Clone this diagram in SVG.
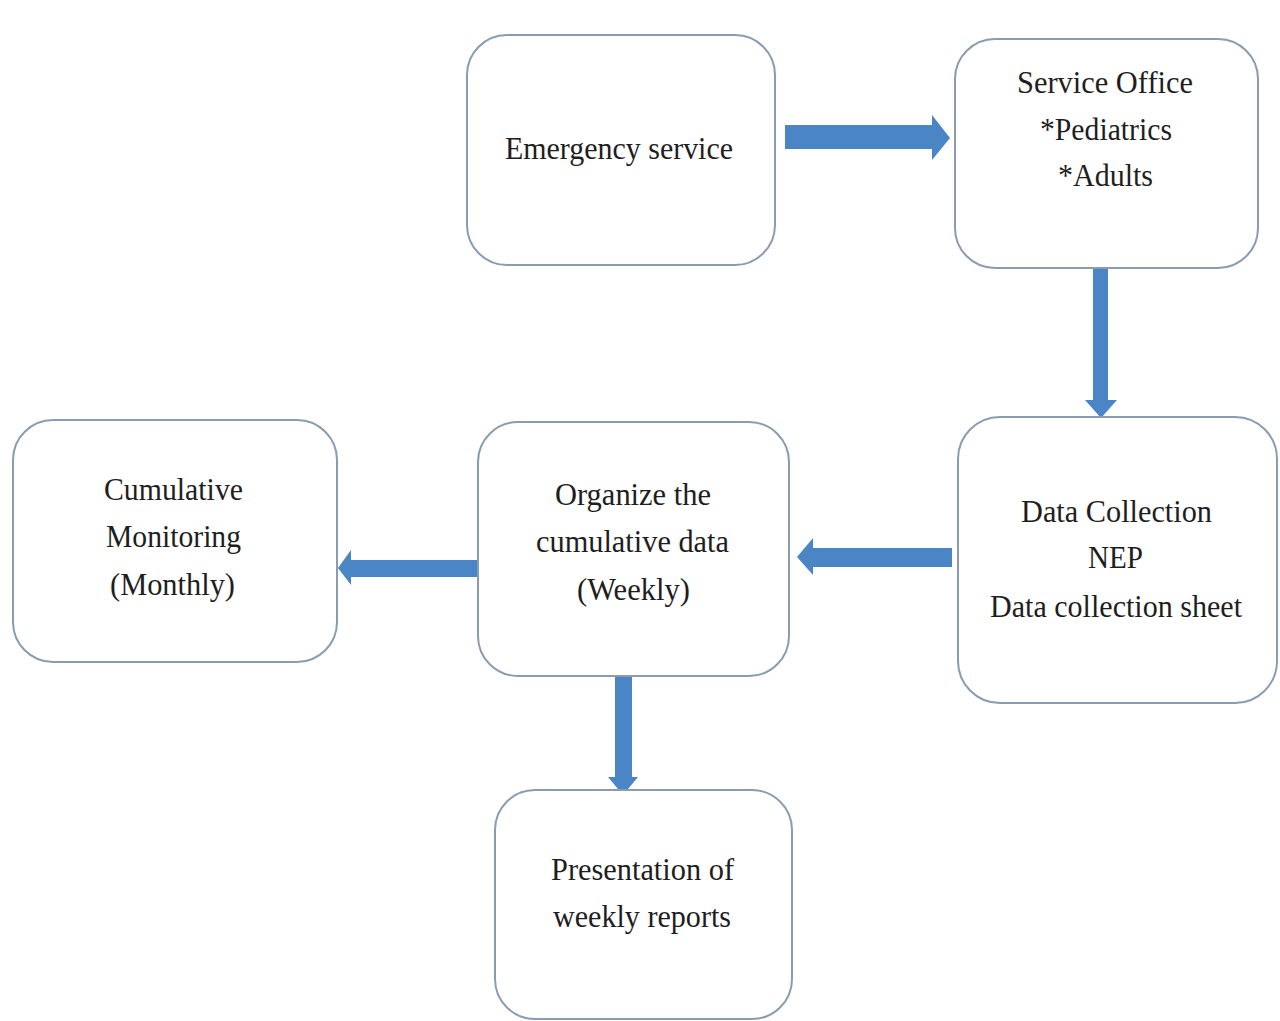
<svg xmlns="http://www.w3.org/2000/svg" width="1280" height="1021" viewBox="0 0 1280 1021">
<style>
.box{fill:#ffffff;stroke:#8a9cb0;stroke-width:2}
.t{font-family:"Liberation Serif","Times New Roman",serif;font-size:31px;fill:#1e1e1e;text-anchor:middle}
.arr{fill:#4a86c6}
</style>
<rect width="1280" height="1021" fill="#ffffff"/>
<g id="connectors">
<polygon class="arr" points="785,125 932,125 932,115 950,138 932,160 932,149 785,149"/>
<polygon class="arr" points="1093,268 1108,268 1108,400 1117,400 1101,418 1085,400 1093,400"/>
<polygon class="arr" points="952,548 813,548 813,538 797,557 813,575 813,567 952,567"/>
<polygon class="arr" points="478,560 351,560 351,550 338,568 351,585 351,577 478,577"/>
<polygon class="arr" points="615,673 632,673 632,777 638,777 623,795 608,777 615,777"/>
</g>
<g id="node-emergency">
<rect class="box" x="467" y="35" width="308" height="230" rx="40"/>
<text class="t" x="619" y="159" textLength="228" lengthAdjust="spacingAndGlyphs">Emergency service</text>
</g>
<g id="node-service-office">
<rect class="box" x="955" y="39" width="303" height="229" rx="40"/>
<text class="t" x="1105" y="93" textLength="176" lengthAdjust="spacingAndGlyphs">Service Office</text>
<text class="t" x="1106" y="140" textLength="132" lengthAdjust="spacingAndGlyphs">*Pediatrics</text>
<text class="t" x="1105.5" y="186" textLength="95" lengthAdjust="spacingAndGlyphs">*Adults</text>
</g>
<g id="node-data-collection">
<rect class="box" x="958" y="417" width="319" height="286" rx="42"/>
<text class="t" x="1116.5" y="522" textLength="191" lengthAdjust="spacingAndGlyphs">Data Collection</text>
<text class="t" x="1115.5" y="568" textLength="55" lengthAdjust="spacingAndGlyphs">NEP</text>
<text class="t" x="1116" y="617" textLength="252" lengthAdjust="spacingAndGlyphs">Data collection sheet</text>
</g>
<g id="node-organize">
<rect class="box" x="478" y="422" width="311" height="254" rx="40"/>
<text class="t" x="633" y="505" textLength="156" lengthAdjust="spacingAndGlyphs">Organize the</text>
<text class="t" x="632.5" y="552" textLength="193" lengthAdjust="spacingAndGlyphs">cumulative data</text>
<text class="t" x="633.5" y="600" textLength="113" lengthAdjust="spacingAndGlyphs">(Weekly)</text>
</g>
<g id="node-cumulative">
<rect class="box" x="13" y="420" width="324" height="242" rx="40"/>
<text class="t" x="173.5" y="500" textLength="139" lengthAdjust="spacingAndGlyphs">Cumulative</text>
<text class="t" x="173.5" y="547" textLength="135" lengthAdjust="spacingAndGlyphs">Monitoring</text>
<text class="t" x="172.5" y="595" textLength="125" lengthAdjust="spacingAndGlyphs">(Monthly)</text>
</g>
<g id="node-presentation">
<rect class="box" x="495" y="790" width="297" height="229" rx="40"/>
<text class="t" x="642.5" y="880" textLength="183" lengthAdjust="spacingAndGlyphs">Presentation of</text>
<text class="t" x="642" y="927" textLength="178" lengthAdjust="spacingAndGlyphs">weekly reports</text>
</g>
</svg>
